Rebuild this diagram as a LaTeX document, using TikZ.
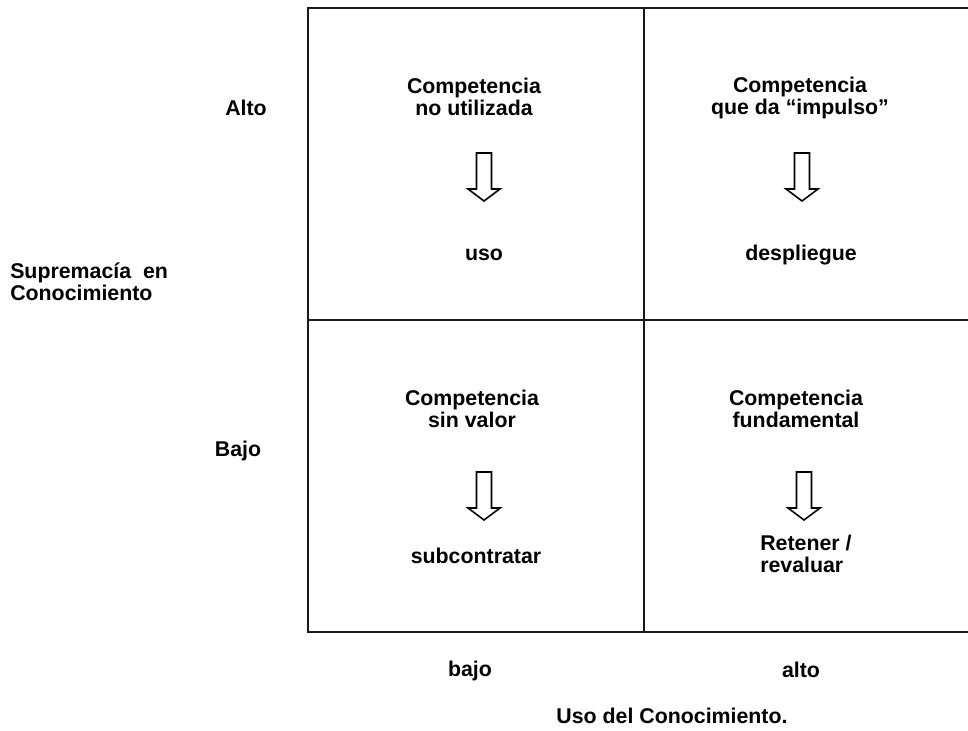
\documentclass[tikz,border=0pt]{standalone}
\usepackage{fontspec}
\setmainfont{Liberation Sans}
\begin{document}
\begin{tikzpicture}[x=0.75pt,y=-0.75pt,
  txt/.style={font=\fontsize{16}{16.5}\selectfont\bfseries, inner sep=0pt, align=center},
  txtl/.style={txt, align=left},
  gridline/.style={line width=1.5pt, draw=black!90, line cap=rect},
  downarrow/.pic={
    \draw[line width=1.2pt, line join=miter, fill=white]
      (-7.5,0) -- (7.5,0) -- (7.5,36) -- (16,36) -- (0,48)
      -- (-16,36) -- (-7.5,36) -- cycle;
  }]
\useasboundingbox (0,0) rectangle (968,731);

% quadrant grid (open on the right side)
\coordinate (nw) at (308,8);
\coordinate (ne) at (968,8);
\coordinate (nm) at (644,8);
\coordinate (wm) at (308,320);
\coordinate (em) at (968,320);
\coordinate (sw) at (308,632);
\coordinate (sm) at (644,632);
\coordinate (se) at (968,632);
\draw[gridline] (ne) -- (nw) -- (sw) -- (se);
\draw[gridline] (nm) -- (sm);
\draw[gridline] (wm) -- (em);

% vertical axis
\node[txt] (alto) at (246,108) {Alto};
\node[txt] (bajoV) at (238,451) {Bajo};
\node[txtl, anchor=west] (yaxis) at (10,282) {Supremacía\ \ en\\Conocimiento};

% horizontal axis
\node[txt] (bajoH) at (470,671) {bajo};
\node[txt] (altoH) at (801,670) {alto};
\node[txt] (xaxis) at (672,716) {Uso del Conocimiento.};

% quadrant: high supremacy, low use
\node[txt] (q1t) at (474,97) {Competencia\\no utilizada};
\pic at (484,153) {downarrow};
\node[txt] (q1b) at (484,255) {uso};

% quadrant: high supremacy, high use
\node[txt] (q2t) at (800,98) {Competencia\\que da “impulso”};
\pic at (802,153) {downarrow};
\node[txt] (q2b) at (801,255) {despliegue};

% quadrant: low supremacy, low use
\node[txt] (q3t) at (472,409) {Competencia\\sin valor};
\pic at (484,472) {downarrow};
\node[txt] (q3b) at (476,556) {subcontratar};

% quadrant: low supremacy, high use
\node[txt] (q4t) at (796,409) {Competencia\\fundamental};
\pic at (804,472) {downarrow};
\node[txtl, anchor=west] (q4b) at (760,554) {Retener /\\revaluar};
\end{tikzpicture}
\end{document}
